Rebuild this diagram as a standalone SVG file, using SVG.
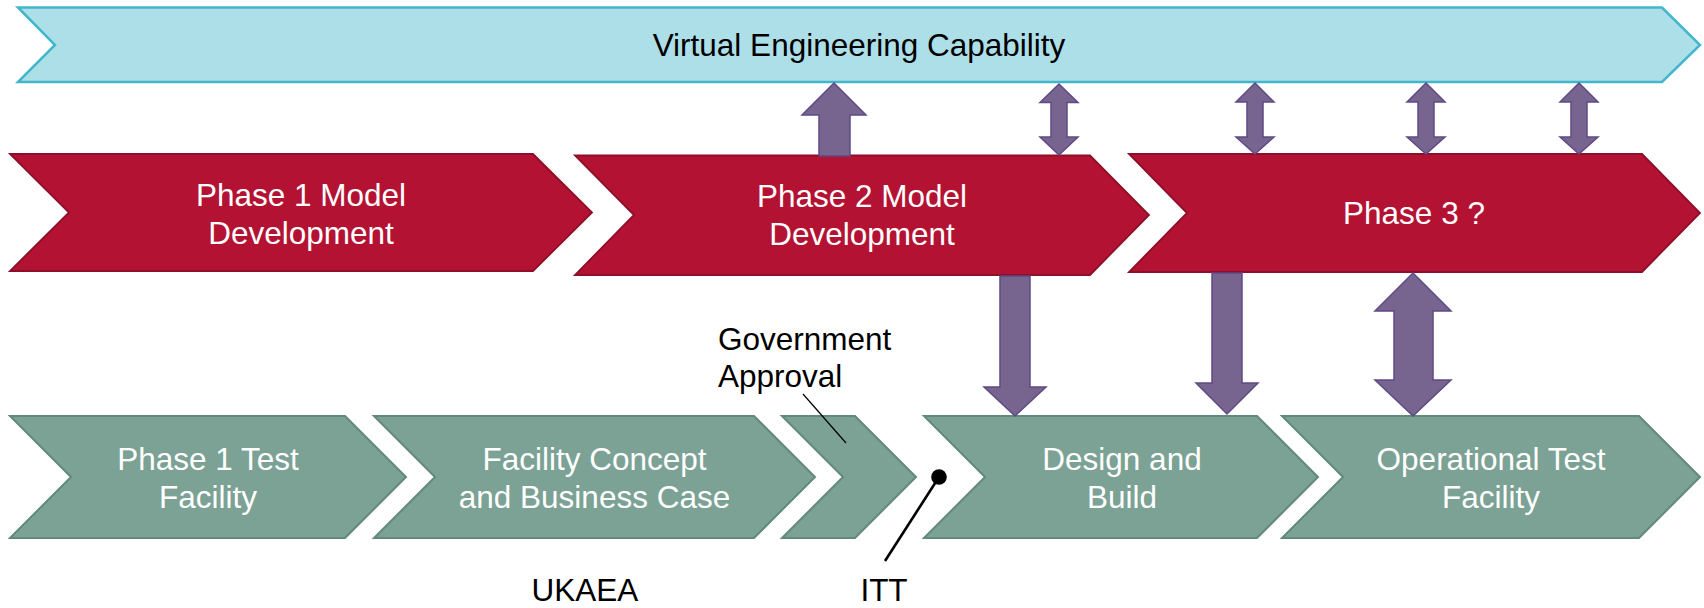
<svg xmlns="http://www.w3.org/2000/svg" width="1704" height="608" viewBox="0 0 1704 608">
<style>
.cyan{fill:#ADDFE9;stroke:#42B6CC;stroke-width:2.5}
.red{fill:#B41232;stroke:#8E0F29;stroke-width:1.8}
.green{fill:#7BA294;stroke:#62897B;stroke-width:2}
.arr{fill:#77648F;stroke:#5F4A85;stroke-width:1.5}
.lbl{font-family:"Liberation Sans",Arial,sans-serif;font-size:31.5px;text-anchor:middle}
.w{fill:#FFFFFF}
.k{fill:#000000}
</style>
<g id="virtual-engineering">
<polygon class="cyan" points="18,7.5 1662,7.5 1700,45 1662,82 18,82 55,45"/>
<text class="lbl k" x="859" y="56">Virtual Engineering Capability</text>
</g>
<g id="phase1-model">
<polygon class="red" points="10,154 533,154 592,212.5 533,271 10,271 69,212.5"/>
<text class="lbl w" x="301" y="206">Phase 1 Model</text>
<text class="lbl w" x="301" y="244">Development</text>
</g>
<g id="phase2-model">
<polygon class="red" points="575,155.5 1090,155.5 1149,215 1090,275 575,275 634,215"/>
<text class="lbl w" x="862" y="207">Phase 2 Model</text>
<text class="lbl w" x="862" y="245">Development</text>
</g>
<g id="phase3">
<polygon class="red" points="1129,154 1642,154 1700,213 1642,272 1129,272 1187,213"/>
<text class="lbl w" x="1414" y="224">Phase 3 ?</text>
</g>
<g id="phase1-test">
<polygon class="green" points="10,416 345,416 406,477 345,538 10,538 71,477"/>
<text class="lbl w" x="208" y="470">Phase 1 Test</text>
<text class="lbl w" x="208" y="508">Facility</text>
</g>
<g id="facility-concept">
<polygon class="green" points="374,416 754,416 815,477 754,538 374,538 435,477"/>
<text class="lbl w" x="594.5" y="470">Facility Concept</text>
<text class="lbl w" x="594.5" y="508">and Business Case</text>
</g>
<g id="government-approval">
<polygon class="green" points="782,416 855,416 916,477 855,538 782,538 843,477"/>
</g>
<g id="design-build">
<polygon class="green" points="924,416 1257,416 1318,477 1257,538 924,538 985,477"/>
<text class="lbl w" x="1122" y="470">Design and</text>
<text class="lbl w" x="1122" y="508">Build</text>
</g>
<g id="operational-test">
<polygon class="green" points="1282,416 1639,416 1700,477 1639,538 1282,538 1343,477"/>
<text class="lbl w" x="1491" y="470">Operational Test</text>
<text class="lbl w" x="1491" y="508">Facility</text>
</g>
<g id="labels">
<text class="lbl k" x="718" y="350" text-anchor="start" style="text-anchor:start">Government</text>
<text class="lbl k" x="718" y="387" style="text-anchor:start">Approval</text>
<text class="lbl k" x="585" y="601">UKAEA</text>
<text class="lbl k" x="884" y="601">ITT</text>
</g>
<g id="connectors">
<polygon class="arr" points="834,83 866,115 850,115 850,156 819,156 819,115 802,115"/>
<polygon class="arr" points="1059,84 1078,102.5 1067,102.5 1067,137 1078,137 1059,155 1040,137 1051,137 1051,102.5 1040,102.5"/>
<polygon class="arr" points="1255,83 1274,102 1263,102 1263,137 1274,137 1255,154 1236,137 1247,137 1247,102 1236,102"/>
<polygon class="arr" points="1426,83 1445,102 1434,102 1434,137 1445,137 1426,154 1407,137 1418,137 1418,102 1407,102"/>
<polygon class="arr" points="1579,83 1598,102 1587,102 1587,137 1598,137 1579,154 1560,137 1571,137 1571,102 1560,102"/>
<polygon class="arr" points="1000,276 1030,276 1030,387 1046,387 1015,416 984,387 1000,387"/>
<polygon class="arr" points="1212,273 1242,273 1242,383 1258,383 1227,414 1196,383 1212,383"/>
<polygon class="arr" points="1413,273 1451,311 1433,311 1433,380 1451,380 1413,416 1375,380 1394,380 1394,311 1375,311"/>
<line x1="803" y1="394" x2="846" y2="443" stroke="#000" stroke-width="1.2"/>
<line x1="939" y1="477" x2="885" y2="561" stroke="#000" stroke-width="2.6"/>
<circle cx="939" cy="477" r="7.8" fill="#000"/>
</g>
</svg>
